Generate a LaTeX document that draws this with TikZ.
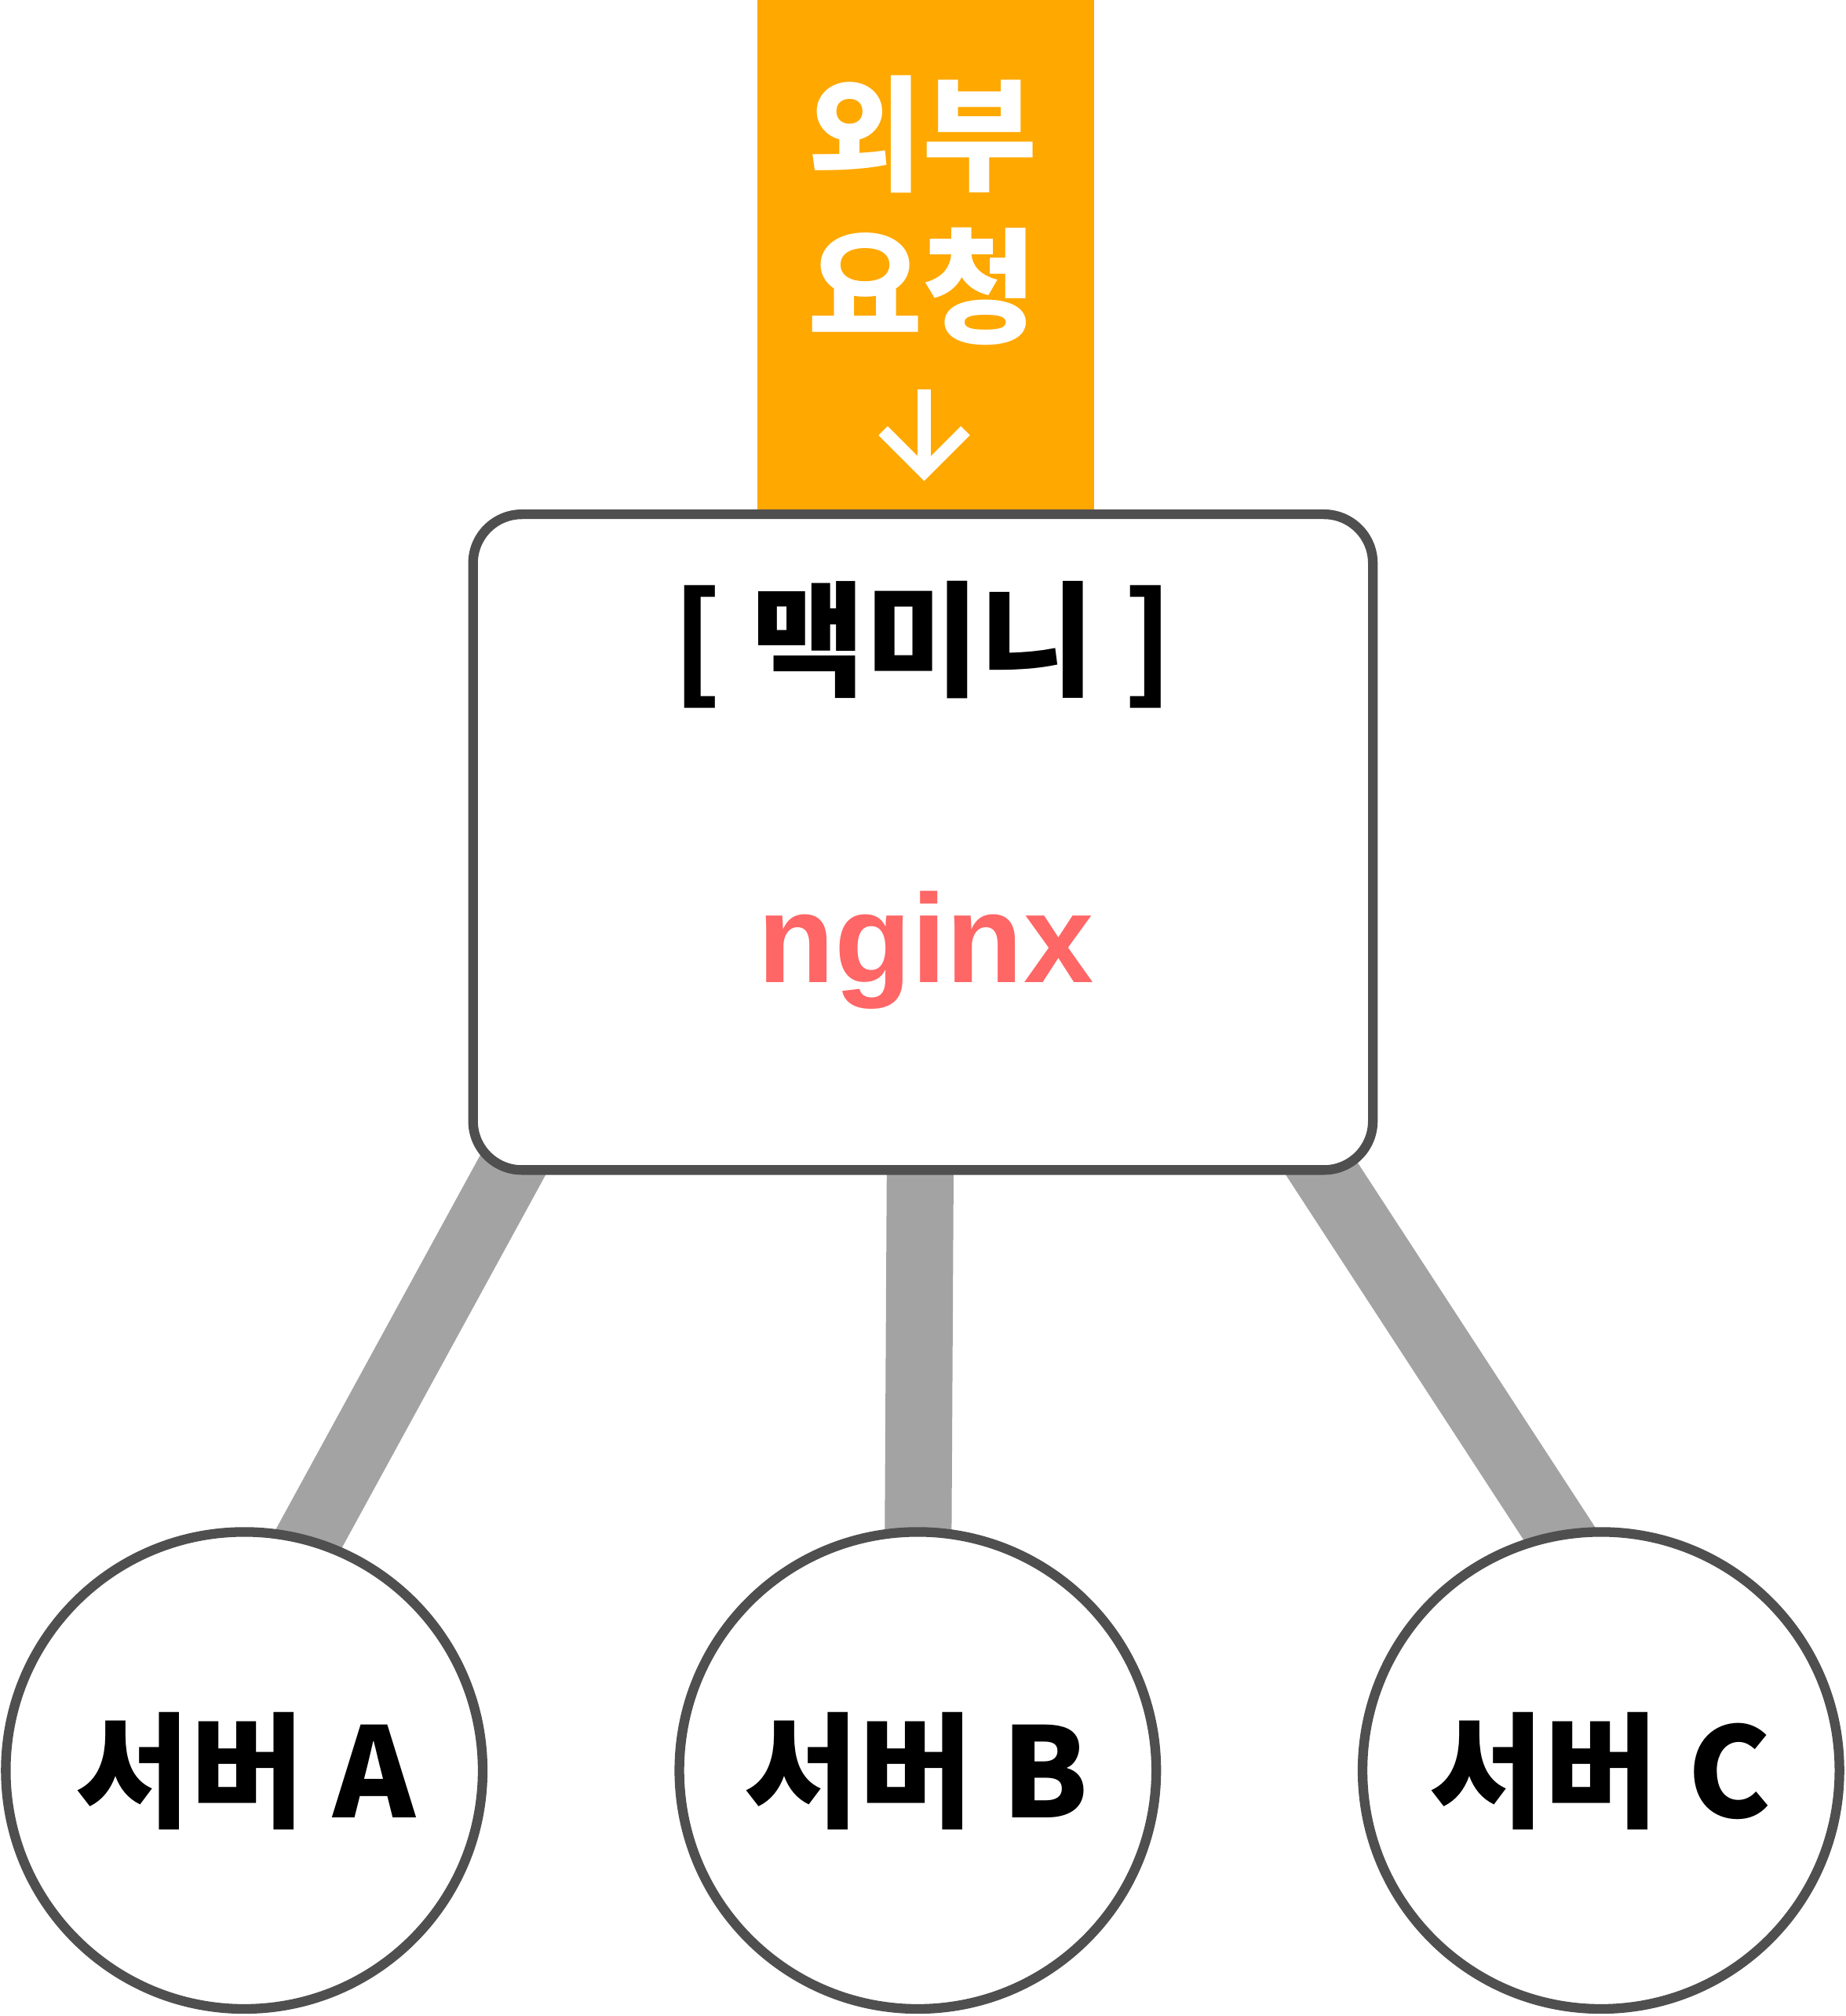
\documentclass[tikz,border=0pt]{standalone}
\usepackage{fontspec}
\newfontfamily\kr{Noto Sans CJK KR}
\newfontfamily\lat{Liberation Sans}
\usetikzlibrary{calc}
\definecolor{reqorange}{HTML}{FFA800}
\definecolor{bordergray}{HTML}{4F4F4F}
\definecolor{linkgray}{HTML}{A3A3A3}
\definecolor{nginxred}{HTML}{FF6666}
\pgfdeclarelayer{background}
\pgfsetlayers{background,main}
\begin{document}
\begin{tikzpicture}[x=1pt,y=-1pt,
  mainbox/.style={draw=bordergray,line width=7.5pt,fill=white,rounded corners=38pt,
    minimum width=700pt,minimum height=510pt,inner sep=0pt},
  srv/.style={circle,draw=bordergray,line width=7.5pt,fill=white,minimum size=371pt,inner sep=0pt},
  link/.style={line width=52pt,draw=linkgray},
  lbl/.style={font=\kr\bfseries\fontsize{97}{110}\selectfont,inner sep=0pt,anchor=base},
  reqlbl/.style={lbl,text=white},
  arrowline/.style={draw=white,line width=10pt}]
\useasboundingbox (0,0) rectangle (1436,1568);
\fill[reqorange] (589,0) rectangle (851,400);
\node[reqlbl] (req1) at (718,141) {외부};
\node[reqlbl] (req2) at (718,259) {요청};
\coordinate (arrtop) at (719,303);
\coordinate (arrtip) at (719,367);
\draw[arrowline] (arrtop) -- ($(arrtip)+(0,-4)$);
\draw[arrowline,line join=miter] ($(arrtip)+(-32,-32)$) -- (arrtip) -- ($(arrtip)+(32,-32)$);
\node[mainbox] (box) at (718,655) {};
\node[lbl] (title) at (718,534) {[ 맥미니 ]};
\node[font=\lat\bfseries\fontsize{98}{110}\selectfont,text=nginxred,inner sep=0pt,anchor=base] (ngx) at (720,764) {nginx};
\node[srv] (sa) at (190,1377) {};
\node[srv] (sb) at (714,1377) {};
\node[srv] (sc) at (1245.5,1377) {};
\node[lbl] (la) at (191,1414) {서버 A};
\node[lbl] (lb) at (713,1414) {서버 B};
\node[lbl] (lc) at (1245,1414) {서버 C};
\begin{pgfonlayer}{background}
\draw[link] ($(box.south west)+(47,-30)$) -- ($(sa.north)+(24,57)$);
\draw[link] ($(box.south)+(-2,-30)$) -- ($(sb.north)+(0,57)$);
\draw[link] ($(box.south east)+(-60,-30)$) -- ($(sc.north)+(1.5,57)$);
\end{pgfonlayer}
\end{tikzpicture}
\end{document}
